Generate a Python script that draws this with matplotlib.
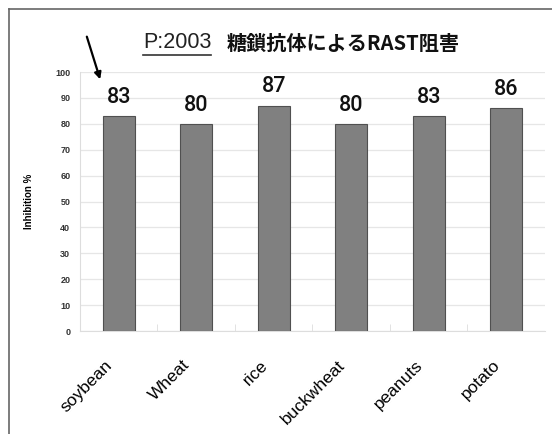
import matplotlib
matplotlib.use("Agg")
import matplotlib.pyplot as plt
from matplotlib.lines import Line2D
from matplotlib.transforms import ScaledTranslation
import numpy as np

foods = ["soybean", "Wheat", "rice", "buckwheat", "peanuts", "potato"]
inhibition = [83, 80, 87, 80, 83, 86]

plt.rcParams["font.family"] = ["Liberation Sans", "Noto Sans CJK JP", "DejaVu Sans"]

fig = plt.figure(figsize=(5.52, 4.34), dpi=100)
ax = fig.add_axes([0.1449, 0.2373, 0.8424, 0.5967])

x = np.arange(len(foods))
bars = ax.bar(x, inhibition, width=0.41, color="#808080", edgecolor="#505050", linewidth=0.8, zorder=3)

# value labels over each bar
for b, v in zip(bars, inhibition):
    ax.annotate(str(v), (b.get_x() + b.get_width() / 2, v), xytext=(0, 6),
                textcoords="offset points", ha="center", va="bottom", fontsize=15.5,
                family="Roboto", fontweight="medium", color="#111111")

ax.set_xlim(-0.5, 5.5)
ax.set_ylim(0, 100)
ax.set_yticks(range(0, 101, 10))
ax.yaxis.grid(True, color="#e6e6e6", linewidth=0.9, zorder=0)
for s in ["top", "right"]:
    ax.spines[s].set_visible(False)
ax.spines["left"].set_color("#dddddd")
ax.spines["bottom"].set_color("#dddddd")
ax.tick_params(axis="y", length=0, labelsize=6.5, labelcolor="#333333", pad=7)
for t in ax.get_yticklabels():
    t.set_fontweight("bold")

ax.set_xticks(x)
ax.set_xticklabels(foods, rotation=45, ha="right", rotation_mode="anchor", fontsize=12.5)
ax.tick_params(axis="x", length=0, pad=19)
shift = ScaledTranslation(-14 / 100, 0, fig.dpi_scale_trans)
for t in ax.get_xticklabels():
    t.set_transform(t.get_transform() + shift)
ax.set_xticks(np.arange(0.5, 5.5, 1), minor=True)
ax.tick_params(axis="x", which="minor", direction="in", length=5, color="#dddddd")

ax.set_ylabel("Inhibition %", fontsize=7, fontweight="bold", labelpad=15)

# title: underlined id then the heading
t1 = fig.text(143 / 552, 1 - 43 / 434, "P:2003", fontsize=15.5, color="#222222", va="center", ha="left")
t2 = fig.text(227 / 552, 1 - 43 / 434, "糖鎖抗体によるRAST阻害", fontsize=14.5, fontweight="bold",
              family=["Noto Sans CJK JP", "DejaVu Sans"], va="center", ha="left", color="#111111")
fig.canvas.draw()
bb = t1.get_window_extent()
fig.add_artist(Line2D([bb.x0 / 552, bb.x1 / 552], [(bb.y0 - 1) / 434] * 2, color="#333333", linewidth=1.2))

# arrow pointing at soybean
ax.annotate("", xy=(101, 434 - 82), xycoords="figure pixels", xytext=(86, 434 - 34),
            textcoords="figure pixels",
            arrowprops=dict(arrowstyle="-|>", color="black", lw=1.6, mutation_scale=10))

# outer frame, top and left edges
fig.add_artist(Line2D([9 / 552, 1], [1 - 9 / 434] * 2, color="#666666", linewidth=1.2))
fig.add_artist(Line2D([9 / 552] * 2, [0, 1 - 9 / 434], color="#666666", linewidth=1.2))

fig.savefig("out.png", dpi=100)
